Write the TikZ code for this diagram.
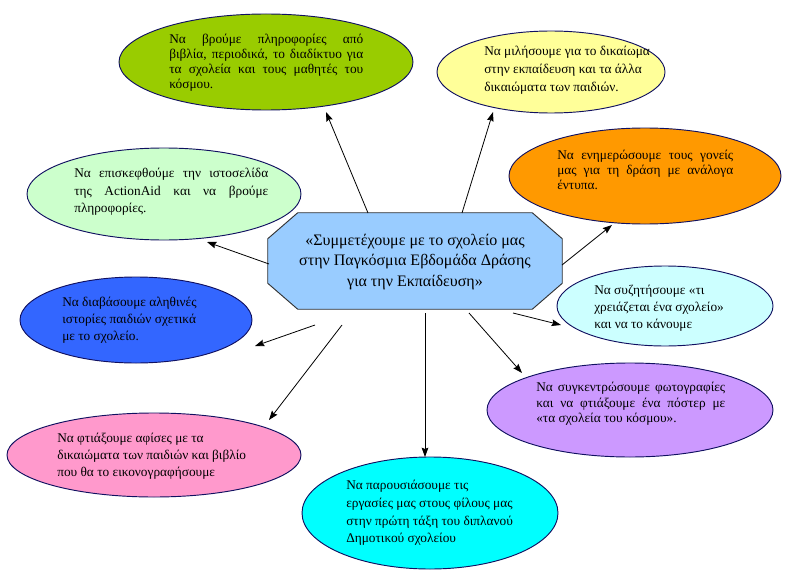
\documentclass[tikz,border=0pt]{standalone}
\usepackage{fontspec}
\setmainfont{Liberation Serif}
\usetikzlibrary{arrows.meta,shapes.geometric}
\definecolor{cGreen}{HTML}{99CC00}
\definecolor{cYellow}{HTML}{FFFF99}
\definecolor{cOrange}{HTML}{FF9900}
\definecolor{cLCyan}{HTML}{CCFFFF}
\definecolor{cPurple}{HTML}{CC99FF}
\definecolor{cCyan}{HTML}{00FFFF}
\definecolor{cPink}{HTML}{FF99CC}
\definecolor{cBlue}{HTML}{3366FF}
\definecolor{cLGreen}{HTML}{CCFFCC}
\definecolor{cHub}{HTML}{99CCFF}
\definecolor{cEdge}{HTML}{101060}
\newcommand{\tf}[1]{\fontsize{10pt}{#1pt}\selectfont}
\newcommand{\jl}[2]{\makebox[#1][s]{#2}}
\begin{document}
\begin{tikzpicture}[x=0.75pt,y=-0.75pt,
  ell/.style={ellipse,draw=cEdge,line width=0.7pt,inner sep=0pt},
  txt/.style={inner sep=0pt,anchor=north west,align=left},
  arr/.style={draw=black,line width=0.6pt,-{Stealth[length=7pt,width=5pt,inset=1pt]}}]
\useasboundingbox (0,0) rectangle (789,585);
% ellipses
\node[ell,fill=cGreen,minimum width=220.5pt,minimum height=72pt] (eGreen) at (266,62) {};
\node[ell,fill=cYellow,minimum width=171pt,minimum height=61.5pt] (eYellow) at (551,72) {};
\node[ell,fill=cOrange,minimum width=204pt,minimum height=72pt] (eOrange) at (645,176) {};
\node[ell,fill=cLCyan,minimum width=162pt,minimum height=60pt] (eLCyan) at (665,306) {};
\node[ell,fill=cPurple,minimum width=214.5pt,minimum height=70.5pt] (ePurple) at (630,410) {};
\node[ell,fill=cCyan,minimum width=192pt,minimum height=84pt] (eCyan) at (430,513) {};
\node[ell,fill=cPink,minimum width=220.5pt,minimum height=63pt] (ePink) at (154,455) {};
\node[ell,fill=cBlue,minimum width=174pt,minimum height=64.5pt] (eBlue) at (136,320) {};
\node[ell,fill=cLGreen,minimum width=205.5pt,minimum height=69pt] (eLGreen) at (164,194) {};
% hub
\path node[minimum width=220.5pt,minimum height=72pt,inner sep=0pt] (hub) at (415,261) {};
\filldraw[fill=cHub,draw=black!80,line width=0.7pt]
  ([xshift=22.5pt]hub.north west) -- ([xshift=-22.5pt]hub.north east)
  -- ([yshift=-19.5pt]hub.north east) -- ([yshift=19.5pt]hub.south east)
  -- ([xshift=-22.5pt]hub.south east) -- ([xshift=22.5pt]hub.south west)
  -- ([yshift=19.5pt]hub.south west) -- ([yshift=-19.5pt]hub.north west) -- cycle;
\node[align=center,inner sep=0pt,font=\fontsize{12pt}{15.5pt}\selectfont] (hubtext) at (415,262)
  {«Συμμετέχουμε με το σχολείο μας\\στην Παγκόσμια Εβδομάδα Δράσης\\για την Εκπαίδευση»};
% texts
\node[txt,font=\tf{11.25}] (tGreen) at (169,34)
  {\jl{145.5pt}{Να βρούμε πληροφορίες από}\\\jl{145.5pt}{βιβλία, περιοδικά, το διαδίκτυο για}\\\jl{145.5pt}{τα σχολεία και τους μαθητές του}\\κόσμου.};
\node[txt,font=\tf{13.5}] (tYellow) at (484,46)
  {Να μιλήσουμε για το δικαίωμα\\στην εκπαίδευση και τα άλλα\\δικαιώματα των παιδιών.};
\node[txt,font=\tf{11.25}] (tOrange) at (557,150)
  {\jl{132pt}{Να ενημερώσουμε τους γονείς}\\\jl{132pt}{μας για τη δράση με ανάλογα}\\έντυπα.};
\node[txt,font=\tf{12.5}] (tLCyan) at (594,285)
  {Να συζητήσουμε «τι\\χρειάζεται ένα σχολείο»\\και να το κάνουμε};
\node[txt,font=\tf{11.5}] (tPurple) at (536,382)
  {\jl{141.75pt}{Να συγκεντρώσουμε φωτογραφίες}\\\jl{141.75pt}{και να φτιάξουμε ένα πόστερ με}\\«τα σχολεία του κόσμου».};
\node[txt,font=\tf{13.25}] (tCyan) at (346,480)
  {Να παρουσιάσουμε τις\\εργασίες μας στους φίλους μας\\στην πρώτη τάξη του διπλανού\\Δημοτικού σχολείου};
\node[txt,font=\tf{12.5}] (tPink) at (57,433)
  {Να φτιάξουμε αφίσες με τα\\δικαιώματα των παιδιών και βιβλίο\\που θα το εικονογραφήσουμε};
\node[txt,font=\tf{12.5}] (tBlue) at (62,297)
  {Να διαβάσουμε αληθινές\\ιστορίες παιδιών σχετικά\\με το σχολείο.};
\node[txt,font=\tf{13}] (tLGreen) at (74,168)
  {\jl{145.5pt}{Να επισκεφθούμε την ιστοσελίδα}\\\jl{145.5pt}{της ActionAid και να βρούμε}\\πληροφορίες.};
% arrow ends
\coordinate (s1) at (368,213); \coordinate (h1) at (326,112);
\coordinate (s2) at (462,213); \coordinate (h2) at (493,112);
\coordinate (s3) at (562,265); \coordinate (h3) at (612,225);
\coordinate (s4) at (513,313); \coordinate (h4) at (561,325);
\coordinate (s5) at (469,313); \coordinate (h5) at (522,373);
\coordinate (s6) at (425,313); \coordinate (h6) at (425,457);
\coordinate (s7) at (342,325); \coordinate (h7) at (269,420);
\coordinate (s8) at (315,325); \coordinate (h8) at (255,346);
\coordinate (s9) at (269,264); \coordinate (h9) at (207,242);
\foreach \i in {1,...,9} { \draw[arr] (s\i) -- (h\i); }
\end{tikzpicture}
\end{document}
